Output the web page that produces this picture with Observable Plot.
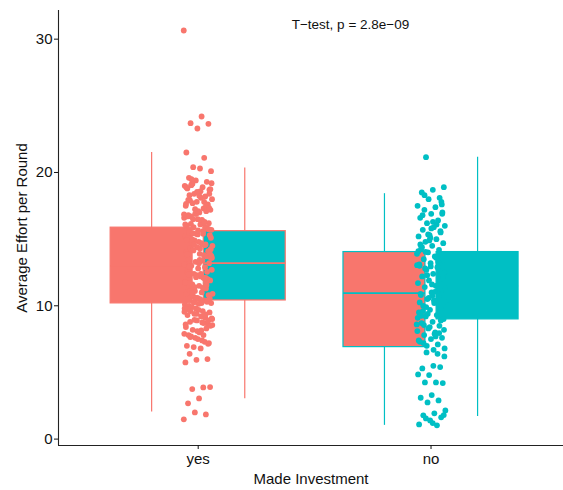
<!DOCTYPE html>
<html>
<head>
<meta charset="utf-8">
<script src="https://cdn.jsdelivr.net/npm/d3@7"></script>
<script src="https://cdn.jsdelivr.net/npm/@observablehq/plot@0.6"></script>
<style>
  html, body { margin: 0; padding: 0; background: #fff; }
  #chart svg { display: block; font-family: "Liberation Sans", Arial, Helvetica, sans-serif; }
</style>
</head>
<body>
<div id="chart"></div>
<script>
// ---- data ----
const categories = ["yes", "no"];
const xTitle = "Made Investment";
const yTitle = "Average Effort per Round";
const yTicks = [0, 10, 20, 30];
const annotation = "T\u2212test, p = 2.8e\u221209";

// box summaries (two boxes per category)
const boxCategory = ["yes", "yes", "no", "no"];
const boxSubgroup = ["first", "second", "first", "second"];
const boxLow    = [2.03, 3.03, 1.03, 1.70];
const boxQ1     = [10.18, 10.40, 6.90, 8.98];
const boxMedian = [13.00, 13.20, 10.95, 11.50];
const boxQ3     = [15.86, 15.60, 14.03, 14.03];
const boxHigh   = [21.49, 20.33, 18.41, 21.15];

// individual observations
const yesEffort = [
  30.65, 24.2, 23.7, 23.65, 23.3, 21.5, 21.1, 20.4, 20.1, 20.3,
  19.6, 19.3, 19.4, 19.0, 18.9, 19.1, 18.7, 18.5, 18.8, 18.2, 18.4, 18.0, 18.1, 17.9, 17.6,
  17.8, 17.5, 17.3, 17.7, 17.2, 17.0, 16.8, 17.1, 16.9, 16.6, 16.4, 16.7, 16.2, 16.5, 16.0,
  16.3, 15.9, 15.7, 16.1, 15.5, 15.8, 15.4, 15.2, 15.6, 15.0, 15.3, 14.8, 15.1, 14.6, 14.9,
  14.5, 14.7, 14.3, 14.1, 14.4, 14.0, 13.8, 14.2, 13.6, 13.9, 13.5, 13.7, 13.3, 13.1, 13.4,
  13.0, 13.2, 12.8, 12.6, 12.9, 12.4, 12.7, 12.2, 12.5, 12.0, 12.3, 11.8, 12.1, 11.6, 11.9,
  11.5, 11.7, 11.3, 11.1, 11.4, 11.0, 11.2, 10.8, 10.6, 10.9, 10.4, 10.7, 10.2, 10.5, 10.0,
  10.3, 9.8, 10.1, 9.6, 9.9, 9.5, 9.7, 9.3, 9.1, 9.4, 9.0, 9.2, 8.8, 8.6, 8.9, 8.4, 8.7,
  8.2, 8.5, 8.0, 7.8, 8.3, 7.6, 7.9, 7.4, 7.7, 7.2, 7.5, 7.0, 7.3, 6.9,
  19.2, 18.6, 18.3, 17.4, 16.9, 16.1, 15.4, 14.8, 13.9, 13.2, 12.7, 12.1, 11.4, 10.9, 10.2,
  9.6, 8.9, 8.1, 18.9, 17.8, 16.5, 15.1, 14.3, 12.9, 11.8, 10.6, 9.8, 9.2,
  19.5, 18.4, 17.1, 16.7, 15.9, 14.6, 13.6, 12.4, 11.1, 10.4, 9.4, 8.6, 7.8,
  19.15, 18.75, 18.25, 17.95, 17.55, 17.25, 16.85, 16.45, 16.15, 15.75, 15.35, 14.95,
  14.55, 14.15, 13.75, 13.35, 12.95, 12.55, 12.15, 11.75, 11.35, 10.95, 10.55, 10.15,
  9.75, 9.35, 8.95, 8.55, 8.15, 7.65, 7.15, 18.55, 17.65, 16.25, 15.45, 14.25, 13.45,
  12.35, 11.55, 10.45, 9.55, 8.75, 19.05, 17.35, 15.65, 13.85, 12.05, 10.25, 9.05,
  6.8, 6.4, 6.0, 5.95, 5.75, 3.88, 3.75, 3.9, 3.05, 2.68, 1.85, 2.0, 1.48
];
const noEffort = [
  21.15,
  18.9, 18.7, 18.5, 18.1, 18.0, 17.5, 17.4, 17.2, 16.9, 16.9, 16.6, 16.4, 16.2, 16.0, 15.9,
  15.7, 15.5, 15.3, 15.2, 15.0, 14.8, 14.7, 14.5, 14.3, 14.2, 14.0, 13.9, 13.7, 13.5, 13.4,
  13.2, 13.0, 12.9, 12.7, 12.5, 12.4, 12.2, 12.0, 11.9, 11.7, 11.5, 11.4, 11.2, 11.0, 10.9,
  10.7, 10.5, 10.3, 10.2, 10.0, 9.8, 9.7, 9.5, 9.3, 9.2, 9.0, 8.8, 8.7, 8.5, 8.3, 8.1, 8.0,
  7.8, 7.6, 7.5, 7.3, 7.1, 7.0, 6.8, 6.7,
  16.8, 15.6, 14.9, 14.1, 13.6, 12.8, 12.1, 11.6, 10.8, 10.1, 9.4, 8.6, 7.9, 7.2, 17.8,
  15.1, 13.1, 11.1, 9.9, 8.2, 16.3, 14.4, 12.6, 10.6, 9.1, 7.7,
  18.3, 17.0, 15.8, 14.6, 13.3, 12.3, 11.3, 10.4, 9.6, 8.9, 8.4, 7.4, 16.1, 14.05, 12.45,
  10.75, 9.25, 7.95, 15.35, 13.05, 11.05, 8.55, 17.6, 12.95, 10.25,
  6.4, 6.5, 6.2, 5.5, 5.3, 5.4, 4.8, 4.85, 4.25, 4.25, 4.2, 3.3, 3.1, 2.9, 2.75,
  2.15, 1.93, 1.78, 1.63, 1.4, 1.1, 1.03, 1.55, 1.8, 1.2
];

// ---- layout / style (not data) ----
const RED = "#F8766D", CYAN = "#00BFC4";
const catColor = {yes: RED, no: CYAN};
const subFill = {first: RED, second: CYAN};
const dodge = 0.2, halfBox = 0.176, jitterW = 0.062;
const catPos = c => categories.indexOf(c) + 1;

const boxes = boxCategory.map((c, i) => {
  const cx = catPos(c) + (boxSubgroup[i] === "first" ? -dodge : dodge);
  return {category: c, subgroup: boxSubgroup[i], cx, x1: cx - halfBox, x2: cx + halfBox,
          low: boxLow[i], q1: boxQ1[i], median: boxMedian[i], q3: boxQ3[i], high: boxHigh[i]};
});

const jitter = i => (((i * 0.6180339887) % 1) - 0.5) * 2 * jitterW;
const points = [
  ...yesEffort.map((v, i) => ({category: "yes", x: 1 + jitter(i), y: v})),
  ...noEffort.map((v, i) => ({category: "no", x: 2 + jitter(i + 7), y: v}))
];

const chart = Plot.plot({
  width: 563,
  height: 490,
  marginLeft: 58,
  marginRight: 0,
  marginTop: 10,
  marginBottom: 45,
  style: {fontFamily: "'Liberation Sans', Arial, Helvetica, sans-serif", background: "#fff"},
  x: {type: "linear", domain: [0.4, 2.569]},
  y: {domain: [-0.48, 32.15]},
  marks: [
    Plot.ruleX(boxes, {x: "cx", y1: "low", y2: "high", stroke: d => catColor[d.category], strokeWidth: 1.2}),
    Plot.rect(boxes, {x1: "x1", x2: "x2", y1: "q1", y2: "q3", fill: d => subFill[d.subgroup],
      stroke: d => catColor[d.category], strokeWidth: 1.2}),
    Plot.ruleY(boxes, {x1: "x1", x2: "x2", y: "median", stroke: d => catColor[d.category], strokeWidth: 1.8}),
    Plot.dot(points, {x: "x", y: "y", r: 2.9, fill: d => catColor[d.category], stroke: null}),
    Plot.ruleX([0.4], {stroke: "#222", strokeWidth: 1.1}),
    Plot.ruleY([-0.48], {stroke: "#222", strokeWidth: 1.1}),
    Plot.axisY({ticks: yTicks, tickSize: 4, tickPadding: 2, fontSize: 15, color: "#111",
      label: yTitle, labelAnchor: "center", labelArrow: "none", labelOffset: 42}),
    Plot.axisX({ticks: [1, 2], tickFormat: d => categories[d - 1], tickSize: 4, tickPadding: 4,
      fontSize: 15, color: "#111", label: xTitle, labelAnchor: "center", labelArrow: "none", labelOffset: 38}),
    Plot.text([annotation], {x: 1.654, y: 31.05, text: d => d, fontSize: 13.5, fill: "#111"})
  ]
});
document.getElementById("chart").appendChild(chart);
</script>
</body>
</html>
